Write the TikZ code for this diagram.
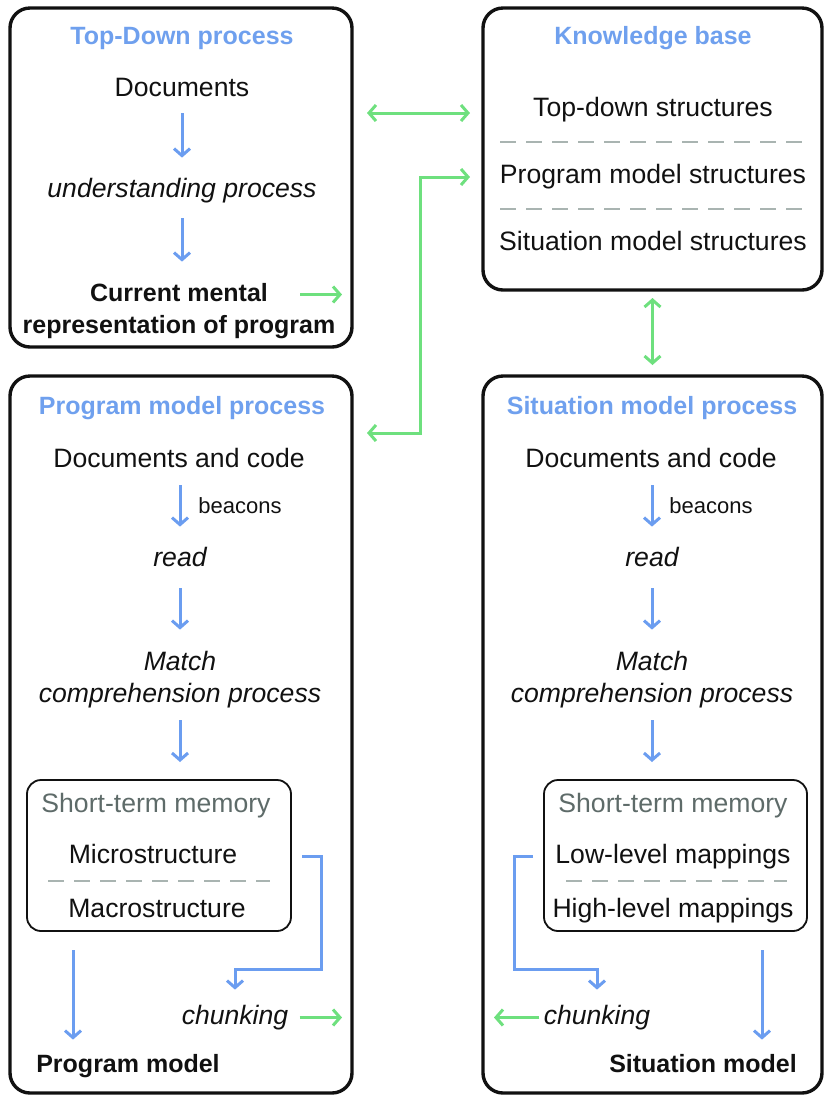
\documentclass[tikz,border=0pt]{standalone}
\usepackage{fontspec}
\setmainfont{Liberation Sans}
\usetikzlibrary{arrows.meta, positioning, calc}
\definecolor{titleBlue}{HTML}{6FA0EE}
\definecolor{flowBlue}{HTML}{6B9DF0}
\definecolor{linkGreen}{HTML}{6EE07E}
\definecolor{ruleGray}{HTML}{A9B4B1}
\definecolor{memGray}{HTML}{5E6B69}
\definecolor{textDark}{HTML}{111111}

\tikzset{
  panel/.style={draw=textDark, line width=1.7pt, rounded corners=10pt, outer sep=0pt},
  membox/.style={draw=textDark, line width=0.9pt, rounded corners=7pt, outer sep=0pt},
  label/.style={inner sep=0pt, text=textDark, font=\fontsize{13.3}{16}\selectfont, text height=9pt, text depth=2.5pt, align=center},
  twoline/.style={label, text height=25pt},
  strong/.style={label, font=\fontsize{12.5}{16}\selectfont\bfseries},
  title/.style={label, text=titleBlue, font=\fontsize{12.5}{16}\selectfont\bfseries},
  memtitle/.style={label, text=memGray},
  small/.style={inner sep=0pt, anchor=west, text=textDark, font=\fontsize{11}{12}\selectfont},
  flow/.style={draw=flowBlue, line width=1.5pt, -{Straight Barb[length=3.5pt,width=8pt]}, shorten <=7pt, shorten >=10.5pt},
  link/.style={draw=linkGreen, line width=1.5pt, -{Straight Barb[length=3.5pt,width=8pt]}},
  twoway/.style={link, {Straight Barb[length=3.5pt,width=8pt]}-{Straight Barb[length=3.5pt,width=8pt]}},
  divider/.style={draw=ruleGray, line width=1pt, dash pattern=on 8pt off 5pt}
}

\begin{document}
\begin{tikzpicture}[x=0.5pt, y=-0.5pt]
  \useasboundingbox (0,0) rectangle (830,1100);

  % panels
  \node[panel, minimum width=171pt, minimum height=169.5pt] (tdbox) at (181,177.5) {};
  \node[panel, minimum width=169.5pt, minimum height=141pt] (kbbox) at (652.5,149) {};
  \node[panel, minimum width=171pt, minimum height=358.5pt] (pmbox) at (181,734.5) {};
  \node[panel, minimum width=169.5pt, minimum height=358.5pt] (smbox) at (652.5,734.5) {};
  \node[membox, minimum width=132pt, minimum height=75.5pt] (pmstm) at (159,855.5) {};
  \node[membox, minimum width=131.5pt, minimum height=75.5pt] (smstm) at (675.5,855.5) {};

  % top-down process
  \node[title] (tdtitle) at (182,37.5) {Top-Down process};
  \node[label] (tddoc) at (182,89.5) {Documents};
  \node[label] (tdund) at (182,190.5) {\itshape understanding process};
  \node[strong] (tdcur) at (179,294.5) {Current mental};
  \node[strong] (tdrep) at (179,326.5) {representation of program};
  \draw[flow, shorten <=6pt] (tddoc) -- (tdund);
  \draw[flow, shorten <=8pt] (tdund.south) -- (tdund.south |- tdcur.north);

  % knowledge base
  \node[title] (kbtitle) at (653,37.5) {Knowledge base};
  \node[label] (kbtop) at (653,109.5) {Top-down structures};
  \node[label] (kbprog) at (653,176.5) {Program model structures};
  \node[label] (kbsit) at (653,243.5) {Situation model structures};
  \foreach \y in {142,209}
    \draw[divider] (500,\y) -- (806,\y);

  % program model process
  \node[title] (pmtitle) at (182,407.5) {Program model process};
  \node[label] (pmdoc) at (179,460.5) {Documents and code};
  \node[small] (pmbeacon) at (198,505.5) {beacons};
  \node[label] (pmread) at (180,559.5) {\itshape read};
  \node[twoline] (pmmatch) at (180,679.5) {\itshape Match\\\itshape comprehension process};
  \node[memtitle] (pmstmt) at (156,805.5) {Short-term memory};
  \node[label] (pmmicro) at (153,856.5) {Microstructure};
  \node[label] (pmmacro) at (157,910.5) {Macrostructure};
  \draw[divider] (48,881) -- (270,881);
  \node[label] (pmchunk) at (235,1017.5) {\itshape chunking};
  \node[strong] (pmmodel) at (128,1065.5) {Program model};
  \coordinate (pmturn) at (321,969);
  \coordinate (pmdrop) at ([xshift=23pt]pmstm.south west);
  \draw[flow, shorten <=6.5pt] (pmdoc.south -| pmread) -- (pmread);
  \draw[flow, shorten <=8.5pt, shorten >=11pt] (pmread) -- (pmmatch);
  \draw[flow, shorten <=6.5pt, shorten >=9pt] (pmmatch.south) -- (pmmatch.south |- pmstm.north);
  \draw[flow, shorten <=5.5pt, shorten >=8pt] (pmstm.east |- pmmicro) -| (pmturn) -| (pmchunk.north);
  \draw[flow, shorten <=9.5pt, shorten >=7pt] (pmdrop) -- (pmdrop |- pmmodel.north);

  % situation model process
  \node[title] (smtitle) at (652,407.5) {Situation model process};
  \node[label] (smdoc) at (651,460.5) {Documents and code};
  \node[small] (smbeacon) at (669,505.5) {beacons};
  \node[label] (smread) at (652,559.5) {\itshape read};
  \node[twoline] (smmatch) at (652,679.5) {\itshape Match\\\itshape comprehension process};
  \node[memtitle] (smstmt) at (673,805.5) {Short-term memory};
  \node[label] (smlow) at (673,856.5) {Low-level mappings};
  \node[label] (smhigh) at (673,910.5) {High-level mappings};
  \draw[divider] (566,881) -- (787,881);
  \node[label] (smchunk) at (597,1017.5) {\itshape chunking};
  \node[strong] (smmodel) at (703,1065.5) {Situation model};
  \coordinate (smturn) at (514,969);
  \coordinate (smdrop) at ([xshift=-22.5pt]smstm.south east);
  \draw[flow, shorten <=6.5pt] (smdoc.south -| smread) -- (smread);
  \draw[flow, shorten <=8.5pt, shorten >=11pt] (smread) -- (smmatch);
  \draw[flow, shorten <=6.5pt, shorten >=9pt] (smmatch) -- (smmatch.south |- smstm.north);
  \draw[flow, shorten <=5.5pt, shorten >=8pt] (smstm.west |- smlow) -| (smturn) -| (smchunk.north);
  \draw[flow, shorten <=9.5pt, shorten >=7pt] (smdrop) -- (smdrop |- smmodel.north);

  % links between the panels
  \coordinate (pmbend) at (420,177);
  \draw[twoway, shorten <=7.5pt, shorten >=6.5pt] (tdbox.east |- 0,113) -- (kbbox.west |- 0,113);
  \draw[twoway, shorten <=7.5pt, shorten >=6.5pt] (pmbox.east |- 0,433) -| (pmbend) -- (kbbox.west |- pmbend);
  \draw[twoway, shorten <=4pt, shorten >=5.5pt] (kbbox.south) -- (smbox.north);
  \draw[link, shorten <=16pt, shorten >=5pt] (tdcur.east) -- (tdbox.east |- tdcur);
  \draw[link, shorten <=5.5pt, shorten >=5pt] (pmchunk.east) -- (pmbox.east |- pmchunk);
  \draw[link, shorten <=2pt, shorten >=5.5pt] (smchunk.west) -- (smbox.west |- smchunk);
\end{tikzpicture}
\end{document}
